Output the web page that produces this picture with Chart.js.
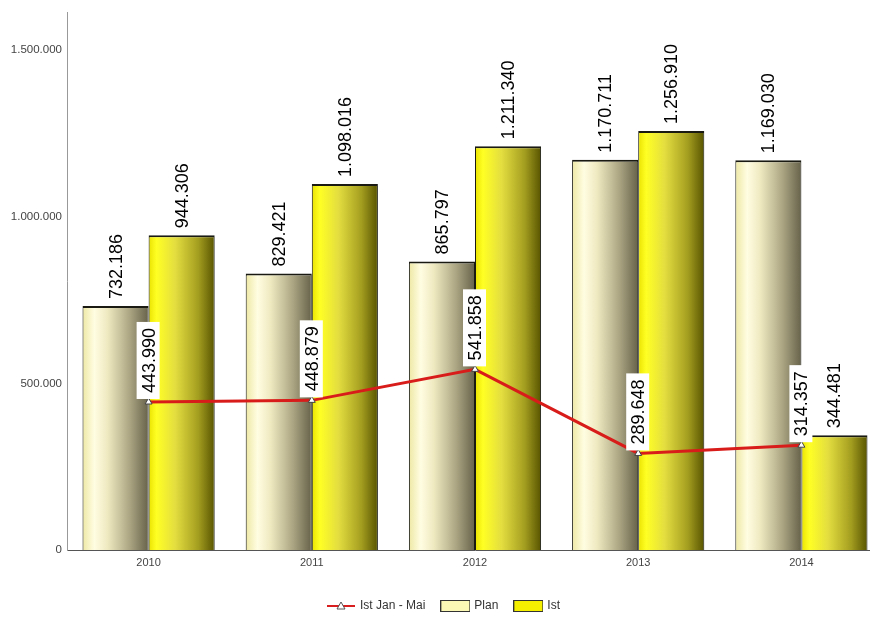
<!DOCTYPE html>
<html>
<head>
<meta charset="utf-8">
<script src="https://cdn.jsdelivr.net/npm/chart.js@4.4.1/dist/chart.umd.min.js"></script>
<style>
  html, body { margin: 0; padding: 0; background: #fff; overflow: hidden; }
  #wrap { width: 890px; height: 617px; }
</style>
</head>
<body>
<div id="wrap"><canvas id="chart" width="890" height="617"></canvas></div>
<script>
var years = ['2010', '2011', '2012', '2013', '2014'];
var planValues = [732186, 829421, 865797, 1170711, 1169030];
var istValues = [944306, 1098016, 1211340, 1256910, 344481];
var istJanMaiValues = [443990, 448879, 541858, 289648, 314357];
var yTicks = [0, 500000, 1000000, 1500000];

var FONT = '"Liberation Sans", Arial, sans-serif';
var CAT_PCT = 0.81;

function fmt(v) {
  return String(v).replace(/\B(?=(\d{3})+(?!\d))/g, '.');
}

// horizontal shading across each bar, light on the left, dark on the right
var planStops = [[0, '#eee8a4'], [0.18, '#fffde2'], [0.38, '#efe9c0'], [0.72, '#aaa482'], [1, '#66624a']];
var istStops = [[0, '#eae200'], [0.12, '#ffff24'], [0.4, '#e4de40'], [0.75, '#a49e20'], [1, '#585400']];

function barFill(stops, side) {
  return function (ctx) {
    var chart = ctx.chart;
    if (ctx.type !== 'data' || !chart.chartArea) return stops[1][1];
    var xs = chart.scales.x;
    var c = xs.getPixelForValue(ctx.dataIndex);
    var w = xs.width / years.length * CAT_PCT / 2;
    var x0 = side < 0 ? c - w : c;
    var g = chart.ctx.createLinearGradient(x0, 0, x0 + w, 0);
    stops.forEach(function (s) { g.addColorStop(s[0], s[1]); });
    return g;
  };
}

var valueLabels = {
  id: 'valueLabels',
  afterDatasetsDraw: function (chart) {
    var ctx = chart.ctx;
    ctx.save();
    ctx.font = '18px ' + FONT;
    ctx.fillStyle = '#000';
    ctx.textBaseline = 'middle';
    ctx.textAlign = 'left';
    [1, 2].forEach(function (di) {
      var meta = chart.getDatasetMeta(di);
      var vals = chart.data.datasets[di].data;
      meta.data.forEach(function (el, i) {
        ctx.save();
        ctx.translate(el.x, el.y - 7);
        ctx.rotate(-Math.PI / 2);
        ctx.fillText(fmt(vals[i]), 0, 1);
        ctx.restore();
      });
    });
    // boxed labels over the line points
    var lm = chart.getDatasetMeta(0);
    var lv = chart.data.datasets[0].data;
    lm.data.forEach(function (pt, i) {
      var t = fmt(lv[i]);
      var tw = ctx.measureText(t).width;
      ctx.save();
      ctx.translate(pt.x, pt.y - 3);
      ctx.rotate(-Math.PI / 2);
      ctx.fillStyle = '#fff';
      ctx.fillRect(0, -12, tw + 12, 23);
      ctx.fillStyle = '#000';
      ctx.fillText(t, 6, 1);
      ctx.restore();
    });
    ctx.restore();
  }
};

function icon(draw) {
  var c = document.createElement('canvas');
  c.width = 30; c.height = 14;
  draw(c.getContext('2d'));
  return c;
}

var legendItems = [
  { text: 'Ist Jan - Mai', img: icon(function (g) {
      g.strokeStyle = '#d81e1e'; g.lineWidth = 2;
      g.beginPath(); g.moveTo(1, 7); g.lineTo(29, 7); g.stroke();
      g.fillStyle = '#fff'; g.strokeStyle = '#555'; g.lineWidth = 1;
      g.beginPath(); g.moveTo(15, 3); g.lineTo(19, 10); g.lineTo(11, 10); g.closePath();
      g.fill(); g.stroke();
    }) },
  { text: 'Plan', img: icon(function (g) {
      g.fillStyle = '#fbf7b4'; g.fillRect(0.5, 1.5, 29, 11);
      g.strokeStyle = '#333'; g.lineWidth = 1; g.strokeRect(0.5, 1.5, 29, 11);
    }) },
  { text: 'Ist', img: icon(function (g) {
      g.fillStyle = '#f4f000'; g.fillRect(0.5, 1.5, 29, 11);
      g.strokeStyle = '#333'; g.lineWidth = 1; g.strokeRect(0.5, 1.5, 29, 11);
    }) }
];

var bottomLegend = {
  id: 'bottomLegend',
  afterDraw: function (chart) {
    var ctx = chart.ctx;
    ctx.save();
    ctx.font = '12px ' + FONT;
    ctx.fillStyle = '#333';
    ctx.textBaseline = 'middle';
    var gapText = 4, gapItem = 15;
    var total = 0;
    legendItems.forEach(function (it, i) {
      it.w = ctx.measureText(it.text).width;
      total += 30 + gapText + it.w + (i ? gapItem : 0);
    });
    var x = 443 - total / 2, y = 606;
    legendItems.forEach(function (it) {
      ctx.drawImage(it.img, x, y - 7);
      ctx.fillText(it.text, x + 30 + gapText, y);
      x += 30 + gapText + it.w + gapItem;
    });
    ctx.restore();
  }
};

var barBorder = { top: 2, left: 1, right: 1, bottom: 0 };

new Chart(document.getElementById('chart'), {
  data: {
    labels: years,
    datasets: [
      {
        type: 'line',
        label: 'Ist Jan - Mai',
        data: istJanMaiValues,
        borderColor: '#d81c1a',
        borderWidth: 3,
        tension: 0,
        pointStyle: 'triangle',
        pointRadius: 4,
        pointBackgroundColor: '#fff',
        pointBorderColor: '#444',
        pointBorderWidth: 1,
        order: 0
      },
      {
        type: 'bar',
        label: 'Plan',
        data: planValues,
        backgroundColor: barFill(planStops, -1),
        borderColor: '#1a1a12',
        borderWidth: barBorder,
        borderSkipped: false,
        categoryPercentage: CAT_PCT,
        barPercentage: 1,
        order: 1
      },
      {
        type: 'bar',
        label: 'Ist',
        data: istValues,
        backgroundColor: barFill(istStops, 1),
        borderColor: '#1a1a12',
        borderWidth: barBorder,
        borderSkipped: false,
        categoryPercentage: CAT_PCT,
        barPercentage: 1,
        order: 1
      }
    ]
  },
  options: {
    responsive: false,
    animation: false,
    layout: { padding: { top: 12, left: 0, right: 7, bottom: 40 } },
    plugins: {
      legend: { display: false },
      tooltip: { enabled: false }
    },
    scales: {
      x: {
        grid: { display: false, drawTicks: false },
        border: { display: true, color: '#555', width: 1 },
        ticks: { color: '#444', font: { family: FONT, size: 11 }, padding: 6 },
        afterFit: function (s) { s.height = 27; }
      },
      y: {
        min: 0,
        max: 1614000,
        grid: { display: false, drawTicks: false },
        border: { display: true, color: '#999', width: 1 },
        afterBuildTicks: function (s) { s.ticks = yTicks.map(function (v) { return { value: v }; }); },
        ticks: {
          color: '#444',
          font: { family: FONT, size: 11.5 },
          padding: 5,
          callback: function (v) { return fmt(v); }
        },
        afterFit: function (s) { s.width = 67; }
      }
    }
  },
  plugins: [valueLabels, bottomLegend]
});
</script>
</body>
</html>
